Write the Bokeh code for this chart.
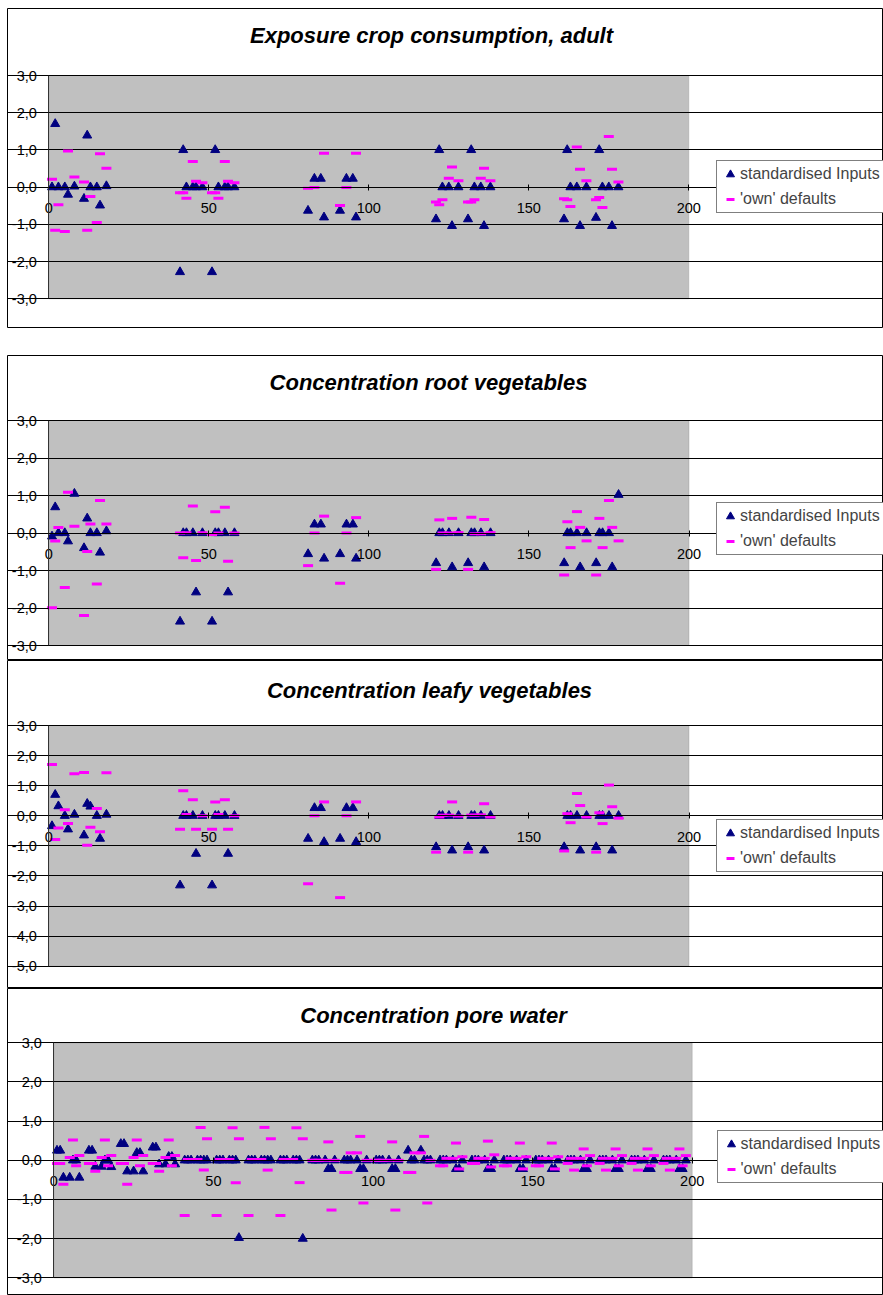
from bokeh.plotting import figure
from bokeh.models import (Range1d, FixedTicker, CustomJSTickFormatter, Legend, LegendItem, Label,
                          Spacer, BoxAnnotation)
from bokeh.layouts import column, row
from bokeh.embed import file_html
from bokeh.resources import INLINE

# ---------------- data ----------------
X_MIN, X_MAX = 0, 200
X_TICKS = [0, 50, 100, 150, 200]

X_STD = [1, 2, 3, 5, 6, 8, 11, 12, 13, 15, 16, 18,
         41, 42, 43, 45, 46, 48, 51, 52, 53, 55, 56, 58,
         81, 83, 85, 86, 91, 93, 95, 96,
         121, 122, 123, 125, 126, 128, 131, 132, 133, 135, 136, 138,
         161, 162, 163, 165, 166, 168, 171, 172, 173, 175, 176, 178]
X_OWN = [1, 2, 3, 5, 6, 8, 11, 12, 13, 15, 16, 18,
         41, 42, 43, 45, 46, 48, 51, 52, 53, 55, 56, 58,
         81, 83, 86, 91, 93, 96,
         121, 122, 123, 125, 126, 128, 131, 132, 133, 135, 136, 138,
         161, 162, 163, 165, 166, 168, 171, 172, 173, 175, 176, 178]

CROP_STD = [0, 1.7, 0, 0, -0.2, 0.02, -0.31, 1.39, 0, 0, -0.49, 0.03,
            -2.28, 1.0, 0, 0, 0, 0, -2.28, 1.0, 0, 0, 0, 0,
            -0.63, 0.23, 0.23, -0.81, -0.63, 0.23, 0.23, -0.81,
            -0.86, 1.0, 0, 0, -1.04, 0, -0.86, 1.0, 0, 0, -1.04, 0,
            -0.86, 1.0, 0, 0, -1.04, 0, -0.82, 1.0, 0, 0, -1.04, 0]
CROP_OWN = [0.21, -1.16, -0.47, -1.19, 0.97, 0.27, 0.14, -1.16, -0.25, -0.95, 0.90, 0.51,
            -0.15, -0.15, -0.30, 0.69, 0.16, 0.12, -0.15, -0.15, -0.30, 0.69, 0.16, 0.12,
            -0.03, -0.01, 0.91, -0.49, -0.01, 0.91,
            -0.40, -0.47, -0.34, 0.24, 0.54, 0.17, -0.40, -0.40, -0.34, 0.24, 0.51, 0.17,
            -0.31, -0.34, -0.52, 1.08, 0.48, 0.17, -0.34, -0.28, -0.55, 1.36, 0.48, 0.14]

ROOT_STD = [-0.09, 0.69, 0, 0, -0.22, 1.05, -0.40, 0.39, 0, 0, -0.52, 0.05,
            -2.36, 0, 0, 0, -1.58, 0, -2.36, 0, 0, 0, -1.58, 0,
            -0.56, 0.23, 0.23, -0.68, -0.56, 0.23, 0.23, -0.68,
            -0.80, 0, 0, 0, -0.91, 0, -0.80, 0, 0, 0, -0.91, 0,
            -0.80, 0, 0, 0, -0.91, 0, -0.80, 0, 0, 0, -0.91, 1.02]
ROOT_OWN = [-1.99, -0.21, 0.15, -1.45, 1.09, 0.18, -2.20, -0.49, 0.24, -1.36, 0.87, 0.24,
            0, -0.66, 0.01, 0.72, -0.73, 0.01, -0.04, 0.57, 0, 0.69, -0.75, 0,
            -0.87, 0, 0.45, -1.34, 0, 0.41,
            -0.97, 0.35, 0, 0, 0.39, 0.01, -0.97, 0.42, -0.02, -0.02, 0.36, 0.01,
            -1.12, 0.30, -0.39, 0.57, 0.15, -0.21, -1.12, 0.39, -0.39, 0.87, 0.15, -0.21]

LEAFY_STD = [-0.34, 0.70, 0.32, 0, -0.45, 0.04, -0.65, 0.40, 0.31, 0, -0.76, 0.04,
             -2.31, 0, 0, 0, -1.26, 0, -2.31, 0, 0, 0, -1.26, 0,
             -0.76, 0.26, 0.26, -0.87, -0.76, 0.26, 0.26, -0.87,
             -1.04, 0, 0, 0, -1.15, 0, -1.04, 0, 0, 0, -1.15, 0,
             -1.04, 0, 0, 0, -1.15, 0, -1.04, 0, 0, 0, -1.15, 0]
LEAFY_OWN = [1.70, -0.79, -0.41, 0.20, -0.26, 1.40, 1.44, -0.98, -0.38, 0.24, -0.53, 1.43,
             -0.45, 0.83, 0.04, 0.53, -0.45, 0, -0.45, 0.46, 0.04, 0.53, -0.45, 0,
             -2.26, 0, 0.46, -2.72, 0, 0.46,
             -1.21, -0.04, 0.02, 0.02, 0.46, -0.01, -1.21, 0.02, 0.02, 0.03, 0.40, -0.04,
             -1.17, 0.07, -0.23, 0.74, 0.34, -0.04, -1.21, 0.10, -0.26, 1.02, 0.30, -0.08]

PORE_BLOCKS = [0, 10, 20, 30, 40, 50, 60, 70, 80, 90, 100, 110, 120, 130, 140, 150, 160, 170, 180, 190]
PORE_OFFSETS = [1, 2, 3, 5, 6, 7, 8]
PORE_STD = [0.25, 0.25, -0.44, -0.44, 0, 0, -0.44,
            0.25, 0.25, -0.16, -0.16, 0, 0, -0.17,
            0.42, 0.42, -0.28, -0.28, 0.19, 0.19, -0.28,
            0.33, 0.33, -0.10, -0.10, 0.09, 0.09, -0.10,
            0, 0, 0, 0, 0, 0, 0,
            0, 0, 0, 0, 0, 0, -1.98,
            0, 0, 0, 0, 0, 0, 0,
            0, 0, 0, 0, 0, 0, -2.0,
            0, 0, 0, 0, -0.22, -0.22, 0,
            0, 0, 0, 0, -0.22, -0.22, 0,
            0, 0, 0, 0, -0.22, -0.22, 0,
            0.25, 0, 0, 0.25, 0, 0, 0,
            0, 0, 0, 0, -0.22, -0.22, 0,
            0, 0, 0, 0, -0.22, -0.22, 0,
            0, 0, 0, 0, -0.22, -0.22, 0,
            0, 0, 0, 0, -0.22, -0.22, 0,
            0, 0, 0, 0, -0.22, -0.22, 0,
            0, 0, 0, 0, -0.22, -0.22, 0,
            0, 0, 0, 0, -0.22, -0.22, 0,
            0, 0, 0, 0, -0.22, -0.22, 0]
PORE_OWN = [-0.08, -0.08, -0.61, 0.07, 0.52, -0.14, 0.12,
            -0.08, -0.08, -0.28, 0.07, 0.52, -0.14, 0.12,
            -0.08, -0.08, -0.61, 0.07, 0.52, -0.14, 0.12,
            -0.08, -0.08, -0.28, 0.07, 0.52, -0.14, 0.12,
            -1.41, 0.02, 0.02, 0.02, 0.84, -0.25, 0.55,
            -1.41, 0.02, 0.02, 0.02, 0.83, -0.57, 0.55,
            -1.41, 0.02, 0.02, 0.02, 0.84, -0.25, 0.55,
            -1.41, 0.02, 0.02, 0.02, 0.83, -0.57, 0.55,
            0, 0, 0, 0, 0.47, -1.27, 0,
            -0.31, -0.31, 0.19, 0.19, 0.61, -1.09, 0,
            0, 0, 0, 0, 0.47, -1.27, 0,
            -0.31, -0.31, 0.19, 0.19, 0.61, -1.09, 0,
            -0.14, -0.14, 0.05, 0.05, 0.44, -0.22, 0.09,
            -0.08, -0.08, 0.05, 0.05, 0.49, -0.17, 0.14,
            -0.14, -0.14, 0.05, 0.05, 0.44, -0.22, 0.09,
            -0.14, -0.14, 0.05, 0.05, 0.44, -0.22, 0.09,
            -0.08, 0.05, -0.25, 0.05, 0.29, -0.14, 0.12,
            -0.08, 0.05, -0.25, 0.05, 0.29, -0.14, 0.12,
            -0.08, 0.05, -0.25, 0.05, 0.29, -0.14, 0.12,
            -0.08, 0.05, -0.25, 0.05, 0.29, -0.14, 0.12]
X_PORE = [b + o for b in PORE_BLOCKS for o in PORE_OFFSETS]

TITLES = ["Exposure crop consumption, adult", "Concentration root vegetables",
          "Concentration leafy vegetables", "Concentration pore water"]
SERIES = ["standardised Inputs", "'own' defaults"]

# ---------------- style / layout ----------------
FONT = "Liberation Sans"
NAVY = "#000080"
MAGENTA = "#FF00FF"
CX0 = 7          # page x of the canvas left edge
CW = 876         # canvas width


def panel(title, xs_std, ys_std, xs_own, ys_own, ymin, ymax, c_top, c_h,
          x0_px, x1_px, ytop_px, ybot_px, title_cx, title_cy, leg_left, leg_bottom):
    sx = (x1_px - x0_px) / (X_MAX - X_MIN)
    sy = (ybot_px - ytop_px) / (ymax - ymin)
    xr = Range1d(X_MIN - (x0_px - CX0) / sx, X_MAX + (CX0 + CW - x1_px) / sx)
    yr = Range1d(ymin - (c_top + c_h - ybot_px) / sy, ymax + (ytop_px - c_top) / sy)
    p = figure(width=CW, height=c_h, x_range=xr, y_range=yr,
               output_backend="svg", toolbar_location=None, min_border=0)
    p.title.visible = False
    p.background_fill_color = "white"
    p.border_fill_color = "white"
    # chart border
    p.outline_line_color = "black"
    p.outline_line_width = 1

    # plot area
    p.add_layout(BoxAnnotation(left=X_MIN, right=X_MAX, bottom=ymin, top=ymax,
                               fill_color="#C0C0C0", fill_alpha=1,
                               line_color="#808080", line_width=1, level="image"))

    yt = list(range(int(ymin), int(ymax) + 1))
    p.xgrid.visible = False
    p.ygrid.grid_line_color = "black"
    p.ygrid.grid_line_width = 1
    p.ygrid.ticker = FixedTicker(ticks=yt)
    p.ygrid.bounds = (X_MIN, X_MAX)

    p.yaxis.fixed_location = X_MIN
    p.yaxis.bounds = (ymin, ymax)
    p.yaxis.ticker = FixedTicker(ticks=yt)
    p.yaxis.formatter = CustomJSTickFormatter(code="return tick.toFixed(1).replace('.', ',');")
    p.yaxis.axis_line_color = "#333333"
    p.yaxis.major_tick_out = 5
    p.yaxis.major_tick_in = 0
    p.yaxis.minor_tick_out = 0
    p.yaxis.minor_tick_in = 0
    p.yaxis.major_label_standoff = 7
    p.yaxis.major_label_text_font = FONT
    p.yaxis.major_label_text_font_size = "14.5px"
    p.yaxis.major_label_text_color = "black"

    p.xaxis.fixed_location = 0
    p.xaxis.bounds = (X_MIN, X_MAX)
    p.xaxis.ticker = FixedTicker(ticks=X_TICKS)
    p.xaxis.axis_line_color = "black"
    p.xaxis.major_tick_in = 3
    p.xaxis.major_tick_out = 3
    p.xaxis.minor_tick_out = 0
    p.xaxis.minor_tick_in = 0
    p.xaxis.major_label_standoff = 13
    p.xaxis.major_label_text_font = FONT
    p.xaxis.major_label_text_font_size = "14.5px"
    p.xaxis.major_label_text_color = "black"

    rs = p.scatter(xs_std, ys_std, marker="triangle", size=9, fill_color=NAVY, line_color=NAVY)
    ro = p.scatter(xs_own, ys_own, marker="dash", size=10, line_color=MAGENTA, line_width=3)

    p.add_layout(Label(x=title_cx - CX0, y=c_top + c_h - title_cy, x_units="screen", y_units="screen",
                       text=title, text_align="center", text_baseline="middle",
                       text_font=FONT, text_font_style="bold italic", text_font_size="22px",
                       text_color="black"))

    leg = Legend(items=[LegendItem(label=SERIES[0], renderers=[rs]),
                        LegendItem(label=SERIES[1], renderers=[ro])],
                 location=(leg_left - CX0, c_top + c_h - leg_bottom))
    leg.border_line_color = "black"
    leg.border_line_width = 1
    leg.background_fill_color = "white"
    leg.background_fill_alpha = 1
    leg.label_text_font = FONT
    leg.label_text_font_size = "16px"
    leg.glyph_width = 20
    leg.glyph_height = 20
    leg.label_height = 20
    leg.padding = 3
    leg.spacing = 5
    leg.label_standoff = 0
    leg.margin = 0
    p.add_layout(leg)
    return p


#          title       std  values    own  values     ymin ymax top  h    x0    x200   y_top   y_bot  t_cx t_cy  leg_l leg_b
p1 = panel(TITLES[0], X_STD, CROP_STD, X_OWN, CROP_OWN, -3, 3, 8, 320, 48.3, 688.3, 75.0, 298.3, 431, 35, 716, 212.7)
p2 = panel(TITLES[1], X_STD, ROOT_STD, X_OWN, ROOT_OWN, -3, 3, 355, 305, 48.3, 688.5, 420.0, 645.0, 428, 382, 716, 555)
p3 = panel(TITLES[2], X_STD, LEAFY_STD, X_OWN, LEAFY_OWN, -5, 3, 660, 328, 48.3, 688.5, 725.0, 965.7, 429, 690, 716, 871.7)
p4 = panel(TITLES[3], X_PORE, PORE_STD, X_PORE, PORE_OWN, -3, 3, 988, 307, 53.3, 691.7, 1042.3, 1277.3, 433, 1015, 716.5, 1183.3)

layout = row(Spacer(width=CX0),
             column(Spacer(height=8), p1, Spacer(height=27), p2, p3, p4, spacing=0),
             spacing=0)
open("out.html", "w").write(file_html(layout, INLINE))
